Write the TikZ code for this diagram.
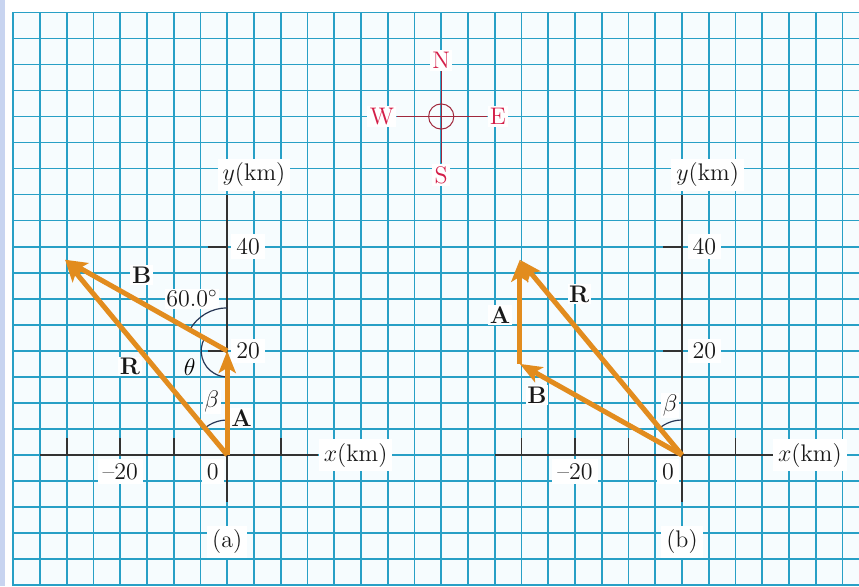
\documentclass[tikz,border=0pt]{standalone}
\usepackage{amsmath,amssymb}
\usepackage{xcolor}
\usepackage{tikz}
\usetikzlibrary{arrows.meta}
\definecolor{gridCyan}{RGB}{40,160,198}
\definecolor{paperTint}{RGB}{246,252,254}
\definecolor{stripBlue}{RGB}{200,212,240}
\definecolor{vecOrange}{RGB}{226,140,30}
\definecolor{compassRed}{RGB}{212,30,72}
\definecolor{compassLine}{RGB}{160,40,60}
\definecolor{arcNavy}{RGB}{40,55,85}
\definecolor{axisGray}{RGB}{50,50,50}

\begin{document}
\begin{tikzpicture}[x=2.675pt,y=2.604pt,font=\fontsize{12}{14}\selectfont,
  vec/.style={vecOrange,line width=2.5pt,-{Stealth[length=11pt,width=8.5pt,inset=2.5pt]}},
  ax/.style={axisGray,line width=0.8pt},
  lbl/.style={fill=white,inner xsep=2.5pt,inner ysep=2pt,text=black!90},
  vlbl/.style={fill=white,inner sep=0.8pt,text=black!90},
  angarc/.style={arcNavy,line width=0.6pt},
  cmp/.style={compassRed,fill=white,inner sep=1.2pt}]
% paper and grid
\fill[white] (-42.47,-25.15) rectangle (118.09,87.37);
\useasboundingbox (-42.47,-25.15) rectangle (118.09,87.37);
\fill[paperTint] (-40,-25.15) rectangle (118.09,85);
\fill[stripBlue] (-42.47,-25.15) rectangle (-41.6,87.37);
\foreach \gx in {-40,-35,...,115}
  \draw[gridCyan,line width=0.8pt] (\gx,-25.15) -- (\gx,85);
\foreach \gy in {-25,-20,...,85}
  \draw[gridCyan,line width=0.8pt] (-40,\gy) -- (118.09,\gy);

% compass
\coordinate (C) at (40,65);
\node[cmp] (N) at (40,75.8) {N};
\node[cmp] (S) at (40,53.8) {S};
\node[cmp] (W) at (28.9,65) {W};
\node[cmp] (E) at (50.6,65) {E};
\draw[compassLine,line width=0.5pt] (N) -- (S) (W) -- (E);
\draw[compassLine,line width=0.5pt] (C) circle[radius=6.3pt];

% (a) axes
\coordinate (Oa) at (0,0);
\coordinate (yTopA) at (0,50);
\coordinate (yBotA) at (0,-9);
\coordinate (xLeftA) at (-35,0);
\node[lbl] (xlabA) at (24,0) {$x$(km)};
\node[lbl] (ylabA) at (5,53.8) {$y$(km)};
\draw[ax] (xLeftA) -- (xlabA.west);
\draw[ax] (yBotA) -- (yTopA);
\foreach \t in {-30,-20,-10,10}
  \draw[ax] (\t,0) -- (\t,3.3);
\foreach \t in {20,40}
  \draw[ax] (0,\t) -- (-3.6,\t);
\node[lbl] (ya40) at (3.9,40) {40};
\node[lbl] (ya20) at (3.9,20) {20};
\node[lbl] (xam20) at (-20,-3.2) {\textendash20};
\node[lbl] (xa0) at (-2.7,-3.2) {0};
\node[lbl] (capA) at (0,-16.7) {(a)};

% (a) vectors
\coordinate (Aa) at (0,20);
\coordinate (Ba) at (-30.31,37.5);
\node[vlbl] (Blab) at (-16,34.6) {\textbf{B}};
\node[vlbl] (ang60) at (-6.6,30) {60.0$^\circ$};
\node[vlbl] (Rlab) at (-18.2,17) {\textbf{R}};
\node (thlab) at (-7,16.9) {$\theta$};
\node[vlbl] (betaA) at (-2.9,10.2) {$\beta$};
\node[vlbl] (Alab) at (2.7,7.1) {\textbf{A}};
\draw[angarc] (Aa) ++(90:21.5pt) arc[start angle=90,end angle=150.7,radius=21.5pt];
\draw[angarc] (Aa) ++(150.7:13pt) arc[start angle=150.7,end angle=270,radius=13pt];
\draw[angarc] (Oa) ++(90:17.5pt) arc[start angle=90,end angle=129.7,radius=17.5pt];
\draw[vec] (Oa) -- (Aa);
\draw[vec] (Aa) -- (Ba);
\draw[vec] (Oa) -- (Ba);

% (b) axes
\coordinate (Ob) at (85,0);
\coordinate (yTopB) at (85,50);
\coordinate (yBotB) at (85,-9);
\coordinate (xLeftB) at (50,0);
\node[lbl] (xlabB) at (108.9,0) {$x$(km)};
\node[lbl] (ylabB) at (89.8,53.8) {$y$(km)};
\draw[ax] (xLeftB) -- (xlabB.west);
\draw[ax] (yBotB) -- (yTopB);
\foreach \t in {-30,-20,-10,10}
  \draw[ax] (85+\t,0) -- (85+\t,3.3);
\foreach \t in {20,40}
  \draw[ax] (85,\t) -- (81.4,\t);
\node[lbl] (yb40) at (89.2,40) {40};
\node[lbl] (yb20) at (89.2,20) {20};
\node[lbl] (xbm20) at (65,-3.2) {\textendash20};
\node[lbl] (xb0) at (82.4,-3.2) {0};
\node[lbl] (capB) at (85,-16.7) {(b)};

% (b) vectors
\coordinate (Bb) at (54.69,17.5);
\coordinate (Ab) at (54.69,37.5);
\node[vlbl] (Alab2) at (51,26.9) {\textbf{A}};
\node[vlbl] (Rlab2) at (65.8,30.9) {\textbf{R}};
\node[vlbl] (Blab2) at (57.9,11.5) {\textbf{B}};
\node[vlbl] (betaB) at (82.8,9.5) {$\beta$};
\draw[angarc] (Ob) ++(90:17.5pt) arc[start angle=90,end angle=129.7,radius=17.5pt];
\draw[vec] (Ob) -- (Bb);
\draw[vec] (Bb) -- (Ab);
\draw[vec] (Ob) -- (Ab);
\end{tikzpicture}
\end{document}
